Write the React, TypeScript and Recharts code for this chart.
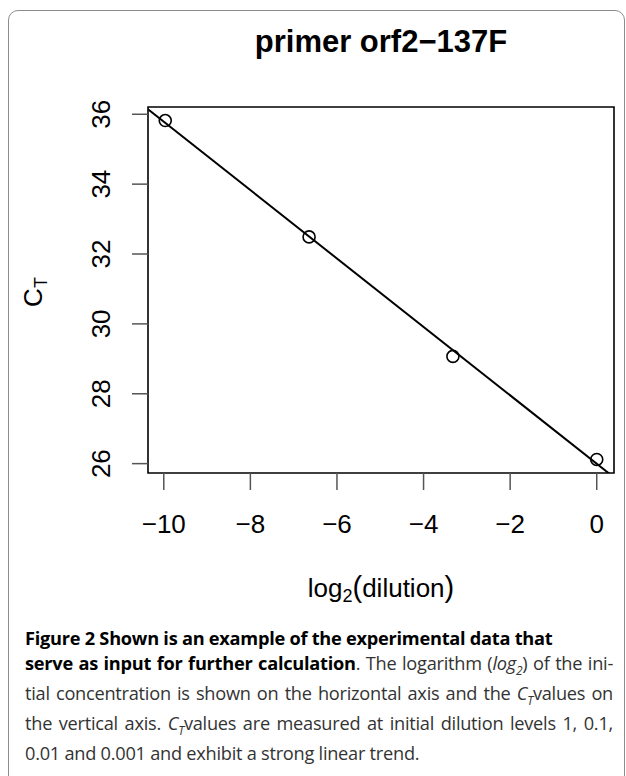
import React from 'react';
import {
  ScatterChart,
  Scatter,
  XAxis,
  YAxis,
  ReferenceLine,
  ReferenceArea,
} from 'recharts';

const dilutions = [1, 0.1, 0.01, 0.001];
const ctValues = [26.12, 29.07, 32.49, 35.82];
const xTicks = [-10, -8, -6, -4, -2, 0];
const yTicks = [26, 28, 30, 32, 34, 36];

const points = dilutions.map((d, i) => ({ x: Math.log2(d), y: ctValues[i] }));

// R style axis range: the data range padded by 4% on both sides
const padRange = (vals: number[]) => {
  const lo = Math.min(...vals);
  const hi = Math.max(...vals);
  const p = (hi - lo) * 0.04;
  return [lo - p, hi + p];
};
const xDomain = padRange(points.map((p) => p.x));
const yDomain = padRange(ctValues);

// least squares line, like abline(lm(ct ~ log2(dilution)))
const fit = (() => {
  const n = points.length;
  const mx = points.reduce((s, p) => s + p.x, 0) / n;
  const my = points.reduce((s, p) => s + p.y, 0) / n;
  let sxy = 0;
  let sxx = 0;
  points.forEach((p) => {
    sxy += (p.x - mx) * (p.y - my);
    sxx += (p.x - mx) * (p.x - mx);
  });
  const slope = sxy / sxx;
  return { slope, intercept: my - slope * mx };
})();
const fitAt = (x: number) => fit.intercept + fit.slope * x;

const minus = (v: number) => String(v).replace('-', '\u2212');

const XTick = ({ x, y, payload }: any) => (
  <text x={x} y={y + 43} textAnchor="middle" fontSize={26} fill="#000">
    {minus(payload.value)}
  </text>
);

const YTick = ({ x, y, payload }: any) => (
  <text
    x={x - 22}
    y={y}
    transform={`rotate(-90, ${x - 22}, ${y})`}
    textAnchor="middle"
    fontSize={26}
    fill="#000"
  >
    {payload.value}
  </text>
);

const Dot = (p: any) => (
  <circle cx={p.cx} cy={p.cy} r={6} fill="none" stroke="#000" strokeWidth={1.6} />
);

const capLine = (top: number, justify: boolean): React.CSSProperties => ({
  position: 'absolute',
  left: 25,
  top,
  width: 588,
  whiteSpace: 'nowrap',
  lineHeight: '20px',
  textAlign: justify ? 'justify' : 'left',
  textAlignLast: justify ? 'justify' : 'left',
});

const Sub = ({ children }: { children: React.ReactNode }) => (
  <sub style={{ fontSize: 12, lineHeight: 0 }}>
    <i>{children}</i>
  </sub>
);

export default function App() {
  return (
    <div
      style={{
        position: 'absolute',
        left: 0,
        top: 0,
        width: 626,
        height: 776,
        overflow: 'hidden',
        background: '#fff',
        fontFamily: '"Liberation Sans", Arial, sans-serif',
      }}
    >
      <div
        style={{
          position: 'absolute',
          left: 8,
          top: 10,
          width: 615,
          height: 790,
          border: '1.5px solid #8c8c8c',
          borderRadius: 10,
        }}
      />
      <div style={{ position: 'absolute', left: 0, top: 0 }}>
        <ScatterChart width={626} height={560} margin={{ top: 107, right: 12, bottom: 0, left: 0 }}>
          <XAxis
            type="number"
            dataKey="x"
            domain={xDomain}
            ticks={xTicks}
            allowDataOverflow
            axisLine={false}
            tickLine={{ stroke: '#555', strokeWidth: 1.5 }}
            tickSize={17}
            tickMargin={0}
            height={87}
            tick={<XTick />}
          />
          <YAxis
            type="number"
            dataKey="y"
            domain={yDomain}
            ticks={yTicks}
            allowDataOverflow
            axisLine={false}
            tickLine={{ stroke: '#555', strokeWidth: 1.5 }}
            tickSize={16}
            tickMargin={0}
            width={148}
            tick={<YTick />}
          />
          <ReferenceArea
            x1={xDomain[0]}
            x2={xDomain[1]}
            y1={yDomain[0]}
            y2={yDomain[1]}
            fill="none"
            fillOpacity={0}
            stroke="#000"
            strokeWidth={1.6}
          />
          <ReferenceLine
            segment={[
              { x: xDomain[0], y: fitAt(xDomain[0]) },
              { x: xDomain[1], y: fitAt(xDomain[1]) },
            ]}
            ifOverflow="hidden"
            stroke="#000"
            strokeWidth={2}
          />
          <Scatter data={points} shape={<Dot />} isAnimationActive={false} />
        </ScatterChart>
      </div>
      <svg
        width={626}
        height={620}
        style={{ position: 'absolute', left: 0, top: 0, pointerEvents: 'none' }}
      >
        <text x={381} y={52} textAnchor="middle" fontSize={31} fontWeight="bold" fill="#000">
          primer orf2{'\u2212'}137F
        </text>
        <text x={381} y={597} textAnchor="middle" fontSize={26} fill="#000">
          log
          <tspan fontSize={18} dy={5}>2</tspan>
          <tspan fontSize={29} dy={-5}>(</tspan>
          dilution
          <tspan fontSize={29}>)</tspan>
        </text>
        <text
          x={42}
          y={292}
          transform="rotate(-90, 42, 292)"
          textAnchor="middle"
          fontSize={26}
          fill="#000"
        >
          C<tspan fontSize={18} dy={5}>T</tspan>
        </text>
      </svg>
      <div style={{ fontFamily: '"Open Sans", sans-serif', fontSize: 18.2, color: '#333', letterSpacing: -0.25 }}>
        <div style={{ ...capLine(628, false), color: '#000', fontWeight: 700 }}>
          Figure 2 Shown is an example of the experimental data that
        </div>
        <div style={capLine(653, true)}>
          <b style={{ color: '#000' }}>serve as input for further calculation</b>. The logarithm (
          <i>log</i>
          <Sub>2</Sub>) of the ini-
        </div>
        <div style={capLine(683, true)}>
          tial concentration is shown on the horizontal axis and the <i>C</i>
          <Sub>T</Sub>values on
        </div>
        <div style={capLine(713, true)}>
          the vertical axis. <i>C</i>
          <Sub>T</Sub>values are measured at initial dilution levels 1, 0.1,
        </div>
        <div style={capLine(743, false)}>0.01 and 0.001 and exhibit a strong linear trend.</div>
      </div>
    </div>
  );
}
